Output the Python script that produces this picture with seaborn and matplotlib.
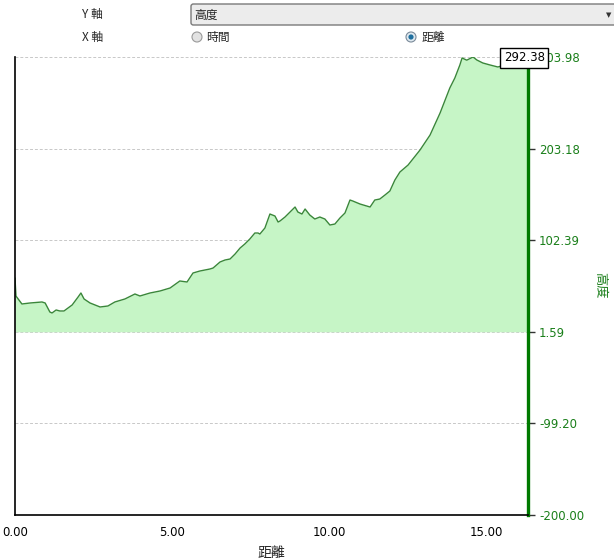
import numpy as np
import pandas as pd
import matplotlib
matplotlib.use("Agg")
import matplotlib.pyplot as plt
import seaborn as sns
from matplotlib.patches import FancyBboxPatch, Circle

# Profil d'altitude : distance (km) et altitude (m)
distance = [0.00, 0.03, 0.22, 0.48, 0.86, 0.96, 1.11, 1.18, 1.31, 1.43, 1.56, 1.82,
            2.01, 2.10, 2.20, 2.39, 2.55, 2.71, 2.96, 3.18, 3.50, 3.82, 3.98, 4.30,
            4.62, 4.94, 5.25, 5.48, 5.67, 5.89, 6.21, 6.31, 6.53, 6.69, 6.85, 7.01,
            7.17, 7.32, 7.48, 7.64, 7.74, 7.80, 7.96, 8.12, 8.28, 8.38, 8.44, 8.60,
            8.76, 8.92, 9.01, 9.14, 9.24, 9.39, 9.55, 9.71, 9.87, 10.03, 10.19, 10.35,
            10.51, 10.67, 10.76, 10.99, 11.31, 11.46, 11.62, 11.78, 11.94, 12.10, 12.26,
            12.52, 12.90, 13.22, 13.54, 13.85, 14.01, 14.17, 14.24, 14.39, 14.59, 14.71,
            14.90, 15.13, 15.38, 15.61, 15.92, 16.34]
altitude = [60.8, 41.0, 32.2, 33.3, 34.4, 33.3, 23.4, 22.3, 25.6, 24.5, 24.5, 31.1,
            39.9, 44.3, 37.7, 33.3, 31.1, 28.9, 30.0, 34.4, 37.7, 43.2, 41.0, 44.3,
            46.5, 49.8, 57.5, 56.4, 66.3, 68.5, 70.7, 71.8, 78.4, 80.6, 81.7, 87.2,
            93.8, 98.2, 103.7, 110.3, 110.3, 109.2, 115.8, 131.2, 129.0, 122.4, 123.5, 127.9,
            133.4, 138.9, 133.4, 131.2, 136.7, 130.1, 125.7, 127.9, 125.7, 119.1, 120.2, 126.8,
            132.3, 146.6, 145.5, 142.2, 138.9, 146.6, 147.7, 152.0, 156.5, 168.6, 177.4,
            185.1, 201.6, 218.1, 242.4, 269.9, 280.9, 295.2, 302.9, 300.5, 304.0, 300.7,
            297.4, 295.2, 293.0, 295.2, 293.0, 292.38]

y_ticks = [-200.00, -99.20, 1.59, 102.39, 203.18, 303.98]
x_ticks = [0, 5, 10, 15]
x_labels = ["0.00", "5.00", "10.00", "15.00"]
fill_base = 1.59
valeur_courante = "292.38"

df = pd.DataFrame({"distance": distance, "altitude": altitude})

sns.set_style("white")
plt.rcParams["font.family"] = ["DejaVu Sans", "Noto Sans CJK TC"]
cjk = ["Noto Sans CJK TC", "DejaVu Sans"]

vert = "#1a7f1a"
fig = plt.figure(figsize=(6.14, 5.59), dpi=100)
ax = fig.add_axes([15 / 614, 44 / 559, 513 / 614, 458 / 559])

ax.fill_between(df["distance"], df["altitude"], fill_base, color="#c6f5c6", lw=0)
sns.lineplot(data=df, x="distance", y="altitude", ax=ax, color="#3a873a", lw=1)

ax.set_xlim(0, 16.34)
ax.set_ylim(-200, 303.98)
ax.set_xticks(x_ticks)
ax.set_xticklabels(x_labels)
ax.tick_params(axis="x", length=0, pad=8, labelsize=8.5, colors="black")
ax.yaxis.tick_right()
ax.set_yticks(y_ticks)
ax.set_yticklabels([f"{v:.2f}" for v in y_ticks])
ax.tick_params(axis="y", right=True, length=5, width=1, color="#333333",
               pad=3, labelsize=8.5, labelcolor=vert)
ax.grid(axis="y", linestyle=(0, (3, 2)), color="#c8c8c8", lw=0.7)
ax.set_axisbelow(True)

ax.spines["top"].set_visible(False)
ax.spines["left"].set_color("black")
ax.spines["left"].set_linewidth(1.2)
ax.spines["bottom"].set_color("black")
ax.spines["bottom"].set_linewidth(1.2)
ax.spines["right"].set_color("#007a00")
ax.spines["right"].set_linewidth(2.4)

ax.set_xlabel("距離", family=cjk, fontsize=10, labelpad=5)
ax.set_ylabel("")
fig.text(600 / 614, 1 - 285 / 559, "高度", family=cjk, fontsize=9.5, color=vert,
         rotation=270, ha="center", va="center")

# Valeur courante au bout du profil (boîte par-dessus l'étiquette du haut)
ax.annotate(valeur_courante, xy=(16.34, 303.98), xytext=(-17.5, -0.5), textcoords="offset points",
            ha="left", va="center", fontsize=8.5, color="black", annotation_clip=False,
            bbox=dict(boxstyle="square,pad=0.3", fc="white", ec="black", lw=1), zorder=10)

# Contrôles en haut (Y 軸 / X 軸)
fig.text(82 / 614, 1 - 14 / 559, "Y 軸", family=cjk, fontsize=8.5, va="center")
fig.text(82 / 614, 1 - 37 / 559, "X 軸", family=cjk, fontsize=8.5, va="center")
combo = FancyBboxPatch((191 / 614, 1 - 25 / 559), 430 / 614, 21 / 559,
                       boxstyle="round,pad=0,rounding_size=0.004", transform=fig.transFigure,
                       fc="#ececec", ec="#7a7a7a", lw=1)
fig.patches.append(combo)
fig.text(194 / 614, 1 - 15 / 559, "高度", family=cjk, fontsize=8.5, va="center")
fig.text(609 / 614, 1 - 15 / 559, "▼", fontsize=5, va="center", ha="center", color="#333333")

r1 = Circle((197, 559 - 37), 5, transform=None, fc="#e2e2e2", ec="#9a9a9a", lw=0.8)
r2 = Circle((411, 559 - 37), 5, transform=None, fc="#dfe9f0", ec="#7a8a99", lw=0.8)
r2b = Circle((411, 559 - 37), 2.6, transform=None, fc="#1f6f9f", ec="none")
for p in (r1, r2, r2b):
    fig.patches.append(p)
fig.text(206 / 614, 1 - 37 / 559, "時間", family=cjk, fontsize=8.5, va="center")
fig.text(422 / 614, 1 - 37 / 559, "距離", family=cjk, fontsize=8.5, va="center")

fig.savefig("out.png", dpi=100)
